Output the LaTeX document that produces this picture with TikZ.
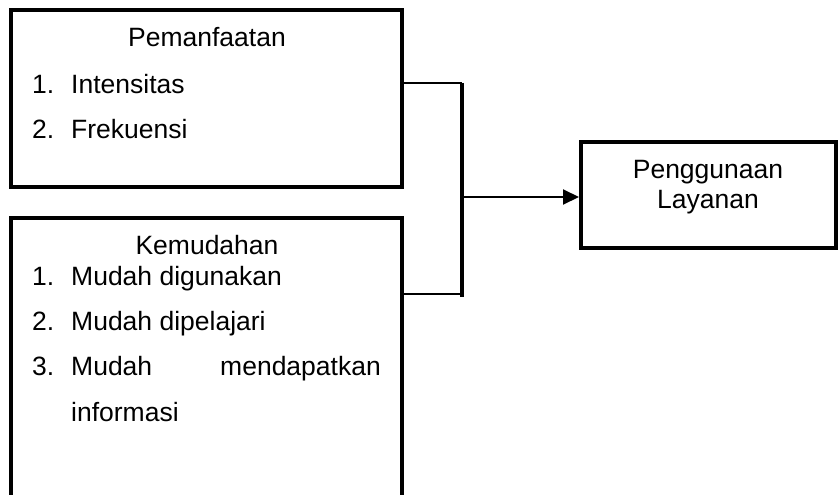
\documentclass[tikz,border=0pt]{standalone}
\usepackage{fontspec}
\setmainfont{Liberation Sans}
\usetikzlibrary{arrows.meta}
\begin{document}
\begin{tikzpicture}[x=1pt,y=-1pt,
  box/.style={draw=black,line width=4pt,fill=none},
  txt/.style={inner sep=0pt,font=\fontsize{26.5}{30}\selectfont},
  conn/.style={draw=black,line width=2pt},
  bar/.style={draw=black,line width=3.5pt}]
\useasboundingbox (0,0) rectangle (838,495);
\clip (0,0) rectangle (838,495);
\fill[white] (0,0) rectangle (838,495);
% boxes
\draw[box] (11,10) rectangle (402,187);
\coordinate (b1e) at (402,83);
\draw[box] (11,218) rectangle (402,530);
\coordinate (b2e) at (402,294);
\node[box,minimum width=255pt,minimum height=106pt,inner sep=0pt] (b3) at (708.5,195) {};
% texts box 1
\node[txt,anchor=base] (t1) at (207,47) {Pemanfaatan};
\node[txt,anchor=base west] (t1a) at (32,93) {1.};
\node[txt,anchor=base west] (t1b) at (71,93) {Intensitas};
\node[txt,anchor=base west] (t1c) at (32,138) {2.};
\node[txt,anchor=base west] (t1d) at (71,138) {Frekuensi};
% texts box 2
\node[txt,anchor=base] (t2) at (207,254) {Kemudahan};
\node[txt,anchor=base west] (t2a) at (32,285) {1.};
\node[txt,anchor=base west] (t2b) at (71,285) {Mudah digunakan};
\node[txt,anchor=base west] (t2c) at (32,330) {2.};
\node[txt,anchor=base west] (t2d) at (71,330) {Mudah dipelajari};
\node[txt,anchor=base west] (t2e) at (32,375) {3.};
\node[txt,anchor=base west] (t2f) at (71,375) {Mudah};
\node[txt,anchor=base east] (t2g) at (381,375) {mendapatkan};
\node[txt,anchor=base west] (t2h) at (71,421) {informasi};
% texts box 3
\node[txt,anchor=base] (t3a) at (708,178) {Penggunaan};
\node[txt,anchor=base] (t3b) at (708,208) {Layanan};
% connectors
\coordinate (bt) at (462,83);
\coordinate (bb) at (462,297);
\coordinate (bm) at (462,197);
\draw[conn] (b1e) -- (462,83);
\draw[conn] (b2e) -- (462,294);
\draw[bar] (bt) -- (bb);
\draw[conn,-{Triangle[length=16pt,width=15pt]}] (bm) -- (bm -| b3.west);
\end{tikzpicture}
\end{document}
